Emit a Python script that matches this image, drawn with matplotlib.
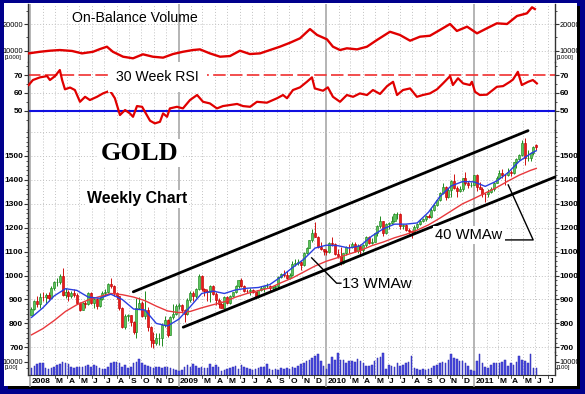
import datetime as dt
import matplotlib
matplotlib.use("Agg")
import matplotlib.pyplot as plt
from matplotlib import font_manager
from matplotlib.patches import Rectangle

# ---------------- data ----------------
first_week = dt.date(2008, 1, 4)          # first weekly bar (Friday)

opens = [836, 862, 895, 882, 912, 910, 920, 906, 948, 972, 973, 1000, 920, 933, 914, 925, 919, 885, 857, 885,
         880, 925, 887, 902, 871, 904, 929, 933, 963, 955, 926, 913, 864, 785, 830, 833, 805, 764, 865, 885,
         830, 858, 785, 730, 718, 737, 740, 795, 815, 753, 825, 838,
         872, 878, 855, 840, 898, 928, 913, 942, 1000, 945, 937, 930, 955, 922, 897, 882, 866, 910, 885, 915,
         930, 955, 980, 958, 937, 936, 940, 930, 912, 938, 950, 955, 958, 948, 953, 955, 996, 1006, 1003, 990,
         1003, 1050, 1052, 1057, 1045, 1096, 1117, 1147, 1177, 1162, 1120, 1110,
         1103, 1097, 1137, 1131, 1092, 1082, 1051, 1093, 1120, 1118, 1133, 1104, 1125, 1105, 1126, 1161, 1137,
         1142, 1179, 1208, 1228, 1176, 1214, 1218, 1229, 1256, 1256, 1208, 1210, 1189, 1188, 1181, 1203, 1217,
         1228, 1237, 1247, 1246, 1276, 1296, 1318, 1346, 1370, 1328, 1357, 1394, 1367, 1353, 1363, 1406, 1385,
         1378, 1380,
         1421, 1369, 1361, 1342, 1340, 1348, 1360, 1388, 1409, 1429, 1421, 1419, 1431, 1429, 1474, 1486, 1504,
         1556, 1491, 1493, 1511, 1545]
highs = [868, 899, 915, 925, 932, 925, 930, 955, 978, 990, 1005, 1032, 948, 940, 935, 945, 925, 890, 890, 895,
         932, 930, 905, 905, 910, 935, 945, 968, 988, 960, 930, 915, 868, 840, 840, 835, 810, 905, 912, 895,
         935, 870, 790, 765, 760, 760, 800, 830, 820, 830, 880, 880,
         885, 880, 860, 905, 935, 935, 950, 1007, 1003, 950, 945, 962, 960, 930, 905, 895, 915, 915, 918, 932,
         960, 983, 990, 962, 945, 948, 945, 932, 940, 958, 958, 968, 960, 955, 960, 998, 1012, 1025, 1018, 1010,
         1062, 1070, 1070, 1062, 1100, 1120, 1150, 1195, 1226, 1165, 1140, 1112,
         1110, 1140, 1160, 1135, 1110, 1120, 1095, 1125, 1130, 1140, 1140, 1130, 1130, 1130, 1165, 1165, 1155,
         1180, 1212, 1249, 1230, 1218, 1222, 1250, 1262, 1265, 1260, 1215, 1215, 1200, 1190, 1210, 1220, 1235,
         1240, 1255, 1258, 1283, 1300, 1320, 1350, 1388, 1375, 1365, 1398, 1424, 1375, 1375, 1410, 1432, 1395,
         1390, 1422,
         1423, 1390, 1370, 1345, 1360, 1370, 1390, 1418, 1440, 1445, 1425, 1448, 1440, 1476, 1490, 1508, 1565,
         1577, 1525, 1515, 1540, 1552]
lows = [833, 855, 870, 865, 895, 880, 895, 905, 938, 955, 965, 915, 905, 895, 905, 910, 880, 850, 855, 865,
        878, 880, 865, 860, 868, 898, 915, 925, 950, 915, 900, 855, 780, 775, 810, 790, 755, 740, 860, 825,
        820, 770, 700, 695, 710, 710, 705, 785, 745, 750, 820, 835,
        860, 845, 805, 835, 890, 895, 905, 940, 935, 915, 895, 890, 918, 875, 865, 865, 865, 880, 882, 910,
        925, 950, 952, 930, 925, 920, 925, 905, 908, 935, 930, 950, 935, 935, 940, 950, 990, 995, 985, 985,
        1000, 1040, 1045, 1025, 1040, 1090, 1115, 1140, 1160, 1115, 1105, 1085,
        1085, 1095, 1125, 1085, 1075, 1045, 1050, 1085, 1095, 1115, 1100, 1095, 1085, 1100, 1120, 1130, 1130,
        1140, 1165, 1200, 1165, 1175, 1195, 1215, 1225, 1235, 1195, 1195, 1185, 1175, 1155, 1175, 1195, 1210,
        1222, 1230, 1240, 1240, 1270, 1290, 1310, 1340, 1315, 1325, 1330, 1360, 1330, 1350, 1355, 1380, 1365,
        1370, 1378,
        1355, 1360, 1330, 1309, 1330, 1345, 1355, 1385, 1405, 1410, 1380, 1415, 1415, 1425, 1450, 1485, 1500,
        1462, 1478, 1480, 1505, 1525]
closes = [862, 895, 882, 912, 910, 920, 906, 948, 972, 973, 1000, 920, 933, 914, 925, 919, 885, 857, 885, 880,
          925, 887, 902, 871, 904, 929, 933, 963, 955, 926, 913, 864, 785, 830, 833, 805, 764, 865, 885, 830,
          858, 785, 730, 718, 737, 740, 795, 815, 753, 825, 838, 872,
          878, 855, 840, 898, 928, 913, 942, 1000, 945, 937, 930, 955, 922, 897, 882, 866, 910, 885, 915, 930,
          955, 980, 958, 937, 936, 940, 930, 912, 938, 950, 955, 958, 948, 953, 955, 996, 1006, 1003, 990, 1003,
          1050, 1052, 1057, 1045, 1096, 1117, 1147, 1177, 1162, 1120, 1110, 1103,
          1097, 1137, 1131, 1092, 1082, 1051, 1093, 1120, 1118, 1133, 1104, 1125, 1105, 1126, 1161, 1137, 1142,
          1179, 1208, 1228, 1176, 1214, 1218, 1229, 1256, 1256, 1208, 1210, 1189, 1188, 1181, 1203, 1217, 1228,
          1237, 1247, 1246, 1276, 1296, 1318, 1346, 1370, 1328, 1357, 1394, 1367, 1353, 1363, 1406, 1385, 1378,
          1380, 1421,
          1369, 1361, 1342, 1340, 1348, 1360, 1388, 1409, 1429, 1421, 1419, 1431, 1429, 1474, 1486, 1504, 1556,
          1491, 1493, 1511, 1536, 1538]
volume = [5000, 6750, 8250, 8750, 9250, 5000, 4500, 5000, 6250, 7500, 8250, 9750, 9250, 8000, 6250, 5500,
          6250, 5750, 6250, 6750, 7250, 6250, 7250, 6750, 5250, 4250, 4750, 6250, 8750, 9750, 9750, 8750,
          6250, 7250, 5000, 6250, 9250, 10000, 11750, 8750, 7250, 6750, 6250, 5000, 5750, 6250, 5000, 5750,
          6250, 5000, 4250, 3750,
          2750, 3750, 6250, 7250, 6250, 8250, 6750, 5000, 6250, 5000, 5500, 8250, 6250, 7250, 6250, 3250,
          3750, 4500, 5500, 5750, 6750, 4750, 7250, 6250, 5000, 4500, 3750, 4250, 5000, 6250, 5750, 8000,
          4250, 3750, 4500, 3750, 5000, 4250, 5000, 4250, 5750, 5250, 6500,
          7800, 9100, 10100, 10900, 12700, 13800, 15300, 10100, 6500, 4400, 7800, 13000, 10900, 16400, 10900,
          10900, 8600, 10100, 10100, 9600, 11700, 10100, 9100, 7000, 7000, 7500, 10100, 12700, 13000, 16400,
          4400, 7500, 7000, 6000, 9100, 7000, 7500, 9100, 9600, 14300, 4900, 4400, 3900, 4400, 3900, 4700,
          5200, 6500, 7500, 8600, 9600, 9100, 11200, 15900, 12700, 12200, 10100, 10100, 8600, 7000, 3400, 2900,
          10100, 15900, 9100, 6000, 5200, 7500, 9100, 8600, 9100, 9600, 11200, 7000, 9100, 7500, 9600, 13800,
          11200, 10100, 8600, 15300, 5500, 4900]

# moving averages read every 4th week (plus last week)
ma_weeks = [0, 4, 8, 12, 16, 20, 24, 28, 32, 36, 40, 44, 48, 52, 56, 60, 64, 68, 72, 76, 80, 84, 88, 92,
            96, 100, 104, 108, 112, 116, 120, 124, 128, 132, 136, 140, 144, 148, 152, 156, 160, 164, 168,
            172, 176, 178]
ma13 = [825, 865, 915, 945, 938, 910, 905, 922, 900, 860, 856, 800, 789, 818, 870, 925, 935, 925, 940, 947,
        950, 962, 995, 1033, 1068, 1115, 1127, 1125, 1115, 1125, 1165, 1195, 1215, 1215, 1220, 1265, 1330,
        1375, 1393, 1392, 1373, 1395, 1430, 1478, 1510, 1522]
ma40 = [752, 778, 812, 850, 878, 898, 912, 925, 920, 910, 895, 872, 852, 845, 850, 865, 878, 890, 910, 925,
        937, 948, 970, 990, 1015, 1040, 1060, 1075, 1090, 1105, 1125, 1140, 1158, 1172, 1190, 1212, 1240,
        1270, 1300, 1322, 1345, 1368, 1395, 1420, 1440, 1448]

rsi_weeks = [-1, 0.5, 3.0, 5.5, 6.5, 8.3, 10.0, 10.8, 11.8, 13.6, 15.3, 17.1, 18.9, 20.6, 23.1, 25.2, 27.7,
             29.4, 31.2, 33.0, 34.7, 35.8, 37.2, 39.0, 40.0, 41.8, 43.5, 45.3, 46.4, 47.8, 48.8, 51.3, 53.4,
             55.9, 58.4, 60.5, 62.9, 65.4, 67.5, 70.0, 72.5, 74.6, 77.1, 79.5, 83.0, 86.6, 88.7, 90.1, 92.2,
             94.7, 97.1, 98.9, 99.9, 102.8, 104.5, 106.3, 108.8, 111.2, 113.4, 115.8, 118.3, 120.4, 122.9,
             125.4, 127.5, 128.9, 131.0, 133.5, 135.9, 138.0, 140.5, 143.0, 145.1, 147.6, 148.6, 150.4, 152.2,
             154.6, 155.3, 156.4, 158.1, 160.6, 164.1, 166.3, 168.7, 169.8, 171.5, 172.9, 175.1, 176.8, 178.2]
rsi_values = [64.4, 67.2, 68.7, 69.4, 67.2, 69.4, 72.8, 67.2, 62.0, 63.0, 61.6, 55.0, 57.8, 56.0, 57.8, 59.7,
              61.2, 57.0, 47.6, 50.4, 48.5, 46.6, 52.6, 52.2, 49.4, 44.4, 42.9, 43.8, 48.5, 46.6, 51.3, 52.2,
              51.3, 56.0, 58.8, 55.0, 54.1, 51.3, 52.6, 53.2, 53.8, 52.6, 52.2, 55.0, 54.5, 57.0, 58.8, 57.0,
              61.6, 63.1, 66.2, 68.7, 62.5, 61.2, 63.1, 57.8, 55.0, 58.8, 57.8, 59.7, 58.8, 61.6, 59.4, 63.8,
              66.2, 58.8, 61.6, 62.5, 57.8, 58.8, 59.7, 62.0, 65.3, 69.4, 64.4, 68.2, 65.3, 64.4, 66.2, 60.6,
              58.8, 59.0, 63.4, 63.8, 66.2, 67.5, 71.8, 64.4, 66.2, 67.2, 65.3]

obv_weeks = [-1, 3.0, 6.5, 10.0, 14.3, 17.8, 21.7, 24.1, 26.6, 28.7, 32.3, 35.8, 39.3, 42.8, 46.4, 49.9, 53.4,
             56.9, 59.4, 62.9, 66.5, 70.0, 73.5, 77.0, 80.6, 84.1, 87.6, 91.2, 94.7, 98.2, 100.7, 104.2, 106.3,
             108.8, 111.2, 114.8, 118.3, 121.8, 126.4, 129.9, 133.5, 137.0, 140.5, 144.0, 147.6, 150.0, 153.6,
             157.1, 160.6, 164.1, 167.7, 171.2, 174.7, 176.5, 177.5]
obv_values = [9000, 9600, 10000, 10250, 9900, 9000, 9600, 10600, 11500, 9600, 7750, 7150, 8650, 7750, 7400,
              8750, 9600, 10250, 10500, 9000, 7750, 8000, 10000, 8750, 9000, 10250, 11500, 13000, 14650, 18100,
              15900, 14250, 11500, 10250, 10900, 10500, 11500, 14000, 17100, 15900, 13750, 15250, 15600, 17750,
              20000, 17400, 19000, 16500, 18400, 20250, 20000, 23000, 24000, 26250, 25600]

# channel trend lines (week, price)
upper_channel = [(35.9, 932), (175.1, 1606)]
lower_channel = [(53.5, 784), (184.6, 1412)]
price_ticks = [700, 800, 900, 1000, 1100, 1200, 1300, 1400, 1500]
rsi_ticks = [50, 60, 70]
obv_ticks = [10000, 20000]
vol_ticks = [10000]
month_letters = ["J", "F", "M", "A", "M", "J", "J", "A", "S", "O", "N", "D"]

# ---------------- fonts ----------------
names = {f.name for f in font_manager.fontManager.ttflist}
NARROW = "Liberation Sans Narrow" if "Liberation Sans Narrow" in names else "Liberation Sans"
SCALE = 1.0 if NARROW == "Liberation Sans Narrow" else 0.85
plt.rcParams["font.family"] = [NARROW, "DejaVu Sans"]

# ---------------- figure ----------------
W, H = 585, 394
fig = plt.figure(figsize=(W / 100, H / 100), dpi=100)
fig.patch.set_facecolor("#00008c")


def fx(x):
    return x / W


def fy(y):
    return 1 - y / H


fig.add_artist(Rectangle((fx(8), fy(389)), fx(580) - fx(8), (389 - 6) / H, transform=fig.transFigure,
                         facecolor="black", edgecolor="none", zorder=-11))
fig.add_artist(Rectangle((fx(4), fy(386)), fx(577) - fx(4), (386 - 3) / H, transform=fig.transFigure,
                         facecolor="white", edgecolor="none", zorder=-10))

X0, X1 = 28, 555


def add_ax(y0, y1):
    ax = fig.add_axes([fx(X0), fy(y1), fx(X1) - fx(X0), (y1 - y0) / H])
    ax.set_facecolor("none")
    return ax


ax_obv = add_ax(4, 62)
ax_rsi = add_ax(62, 130)
ax_px = add_ax(130, 352)
ax_vol = add_ax(352, 375)
axes = [ax_obv, ax_rsi, ax_px, ax_vol]

XL = (-1.23, 184.6)
ax_obv.set_ylim(5770, 27490)
ax_rsi.set_ylim(39.2, 77.3)
ax_px.set_ylim(680.3, 1608.7)
ax_vol.set_ylim(0, 17040)

# month positions (in weeks from first bar)
months = []
for yr in range(2008, 2012):
    for m in range(1, 13):
        d = dt.date(yr, m, 1)
        if d > dt.date(2011, 7, 1):
            break
        months.append(((d - first_week).days / 7.0, yr, m))

GRID = "#c2c2c2"
for ax in axes:
    ax.set_xlim(*XL)
    for s in ("top", "bottom"):
        ax.spines[s].set_visible(False)
    for s in ("left", "right"):
        ax.spines[s].set_color("#333333")
        ax.spines[s].set_linewidth(1.0)
    for w, yr, m in months:
        if m == 1:
            ax.axvline(w, color="#a8a8a8", lw=1.2, zorder=0.5)
        else:
            ax.axvline(w, color=GRID, lw=0.7, ls=(0, (1, 2)), zorder=0.5)
    ax.tick_params(axis="x", which="both", bottom=False, top=False, labelbottom=False)
    ax.tick_params(axis="y", which="both", left=True, right=True, labelleft=True, labelright=True,
                   direction="out", color="#333333", labelcolor="black")
    ax.tick_params(axis="y", which="major", length=2.6, width=0.8, pad=0.8, labelsize=6)
    ax.tick_params(axis="y", which="minor", length=1.6, width=0.6)

ax_vol.spines["bottom"].set_visible(True)
ax_vol.spines["bottom"].set_color("#333333")

# ticks
ax_px.set_yticks(price_ticks, labels=[str(v) for v in price_ticks], fontsize=6, fontweight="bold")
ax_px.set_yticks(list(range(700, 1601, 20)), minor=True)
ax_rsi.set_yticks(rsi_ticks, labels=[str(v) for v in rsi_ticks], fontsize=6, fontweight="bold")
ax_rsi.set_yticks([45, 55, 65, 75], minor=True)
ax_obv.set_yticks(obv_ticks, labels=[str(v) for v in obv_ticks], fontsize=5.3)
ax_obv.set_yticks([15000, 25000], minor=True)
ax_vol.set_yticks(vol_ticks, labels=[str(v) for v in vol_ticks], fontsize=5.3)
ax_vol.set_yticks([5000, 15000], minor=True)

# horizontal grids
for p in range(700, 1601, 100):
    ax_px.axhline(p, color=GRID, lw=0.7, ls=(0, (1, 2)), zorder=0.5)
for v in obv_ticks:
    ax_obv.axhline(v, color=GRID, lw=0.7, ls=(0, (1, 2)), zorder=0.5)
ax_rsi.axhline(60, color=GRID, lw=0.7, ls=(0, (1, 2)), zorder=0.5)

# ---------------- OBV ----------------
ax_obv.plot(obv_weeks, obv_values, color="#e00000", lw=1.7, zorder=3, solid_joinstyle="round")

# ---------------- RSI ----------------
ax_rsi.axhline(70, color="#f03030", lw=1.2, ls=(0, (7.5, 2.6)), zorder=2)
ax_rsi.axhline(50, color="#1010e0", lw=1.5, zorder=2)
ax_rsi.plot(rsi_weeks, rsi_values, color="#e00000", lw=1.6, zorder=3, solid_joinstyle="round")

# ---------------- candles ----------------
n = len(closes)
up = [i for i in range(n) if closes[i] >= opens[i]]
dn = [i for i in range(n) if closes[i] < opens[i]]
ax_px.vlines(up, [lows[i] for i in up], [highs[i] for i in up], color="#1f8a1f", lw=0.7, zorder=2)
ax_px.vlines(dn, [lows[i] for i in dn], [highs[i] for i in dn], color="#d01010", lw=0.7, zorder=2)
ax_px.bar(up, [max(closes[i] - opens[i], 2) for i in up], bottom=[opens[i] for i in up], width=0.72,
          color="#5cc45c", edgecolor="#1e861e", linewidth=0.45, zorder=3)
ax_px.bar(dn, [opens[i] - closes[i] for i in dn], bottom=[closes[i] for i in dn], width=0.72,
          color="#e81c1c", edgecolor="#c00000", linewidth=0.45, zorder=3)

ax_px.plot(ma_weeks, ma40, color="#e8383c", lw=1.0, zorder=4)
ax_px.plot(ma_weeks, ma13, color="#2a3ee0", lw=1.0, zorder=4)

for seg in (upper_channel, lower_channel):
    ax_px.plot([seg[0][0], seg[1][0]], [seg[0][1], seg[1][1]], color="black", lw=2.0,
               solid_capstyle="round", zorder=5, clip_on=False)

# annotation leaders (week, price)
ax_px.plot([98.8, 107.6, 109.1], [1074, 968, 968], color="black", lw=1.0, zorder=5)
ax_px.plot([167.0, 176.9, 168.1], [1149, 1149, 1379], color="black", lw=1.0, zorder=5)

# ---------------- volume ----------------
ax_vol.bar(range(n), volume, width=0.55, color="#4a4ae0", edgecolor="#2b2bb0", linewidth=0.35, zorder=3)

# bottom month labels / year separators
xt = ax_vol.get_xaxis_transform()
for w, yr, m in months:
    if m == 2:
        continue
    lbl = str(yr) if m == 1 else month_letters[m - 1]
    ax_vol.annotate(lbl, xy=(w, 0), xycoords=xt, xytext=(1.0, -4.8), textcoords="offset points",
                    ha="left", va="center", fontsize=6, fontweight="bold", annotation_clip=False)
    if m == 1:
        ax_vol.plot([w, w], [0, -0.48], transform=xt, color="#a8a8a8", lw=1.2, clip_on=False)
    else:
        ax_vol.plot([w, w], [0, -0.13], transform=xt, color="#555555", lw=0.7, clip_on=False)

# unit labels
for x in (5, 557):
    fig.text(fx(x), fy(58), "[1000]", fontsize=4.3, ha="left", va="center")
    fig.text(fx(x), fy(368), "[100]", fontsize=4.3, ha="left", va="center")

# ---------------- titles / annotations ----------------
fig.text(fx(135), fy(18.5), "On-Balance Volume", fontsize=12 * SCALE, ha="center", va="center")
fig.text(fx(157.5), fy(77), "30 Week RSI", fontsize=12 * SCALE, ha="center", va="center",
         bbox=dict(boxstyle="square,pad=0.55", facecolor="white", edgecolor="none"))
fig.text(fx(139.5), fy(153), "GOLD", fontsize=19, fontweight="bold", ha="center", va="center",
         family=["Liberation Serif", "DejaVu Serif"],
         bbox=dict(boxstyle="square,pad=0.1", facecolor="white", edgecolor="none"))
fig.text(fx(137), fy(199), "Weekly Chart", fontsize=13.5 * SCALE, fontweight="bold", ha="center",
         va="center", bbox=dict(boxstyle="square,pad=0.1", facecolor="white", edgecolor="none"))
fig.text(fx(377), fy(283.5), "13 WMAw", fontsize=13 * SCALE, ha="center", va="center")
fig.text(fx(469), fy(235), "40 WMAw", fontsize=12.5 * SCALE, ha="center", va="center",
         bbox=dict(boxstyle="square,pad=0.15", facecolor="white", edgecolor="none"))

fig.savefig("out.png", dpi=100, facecolor=fig.get_facecolor())
